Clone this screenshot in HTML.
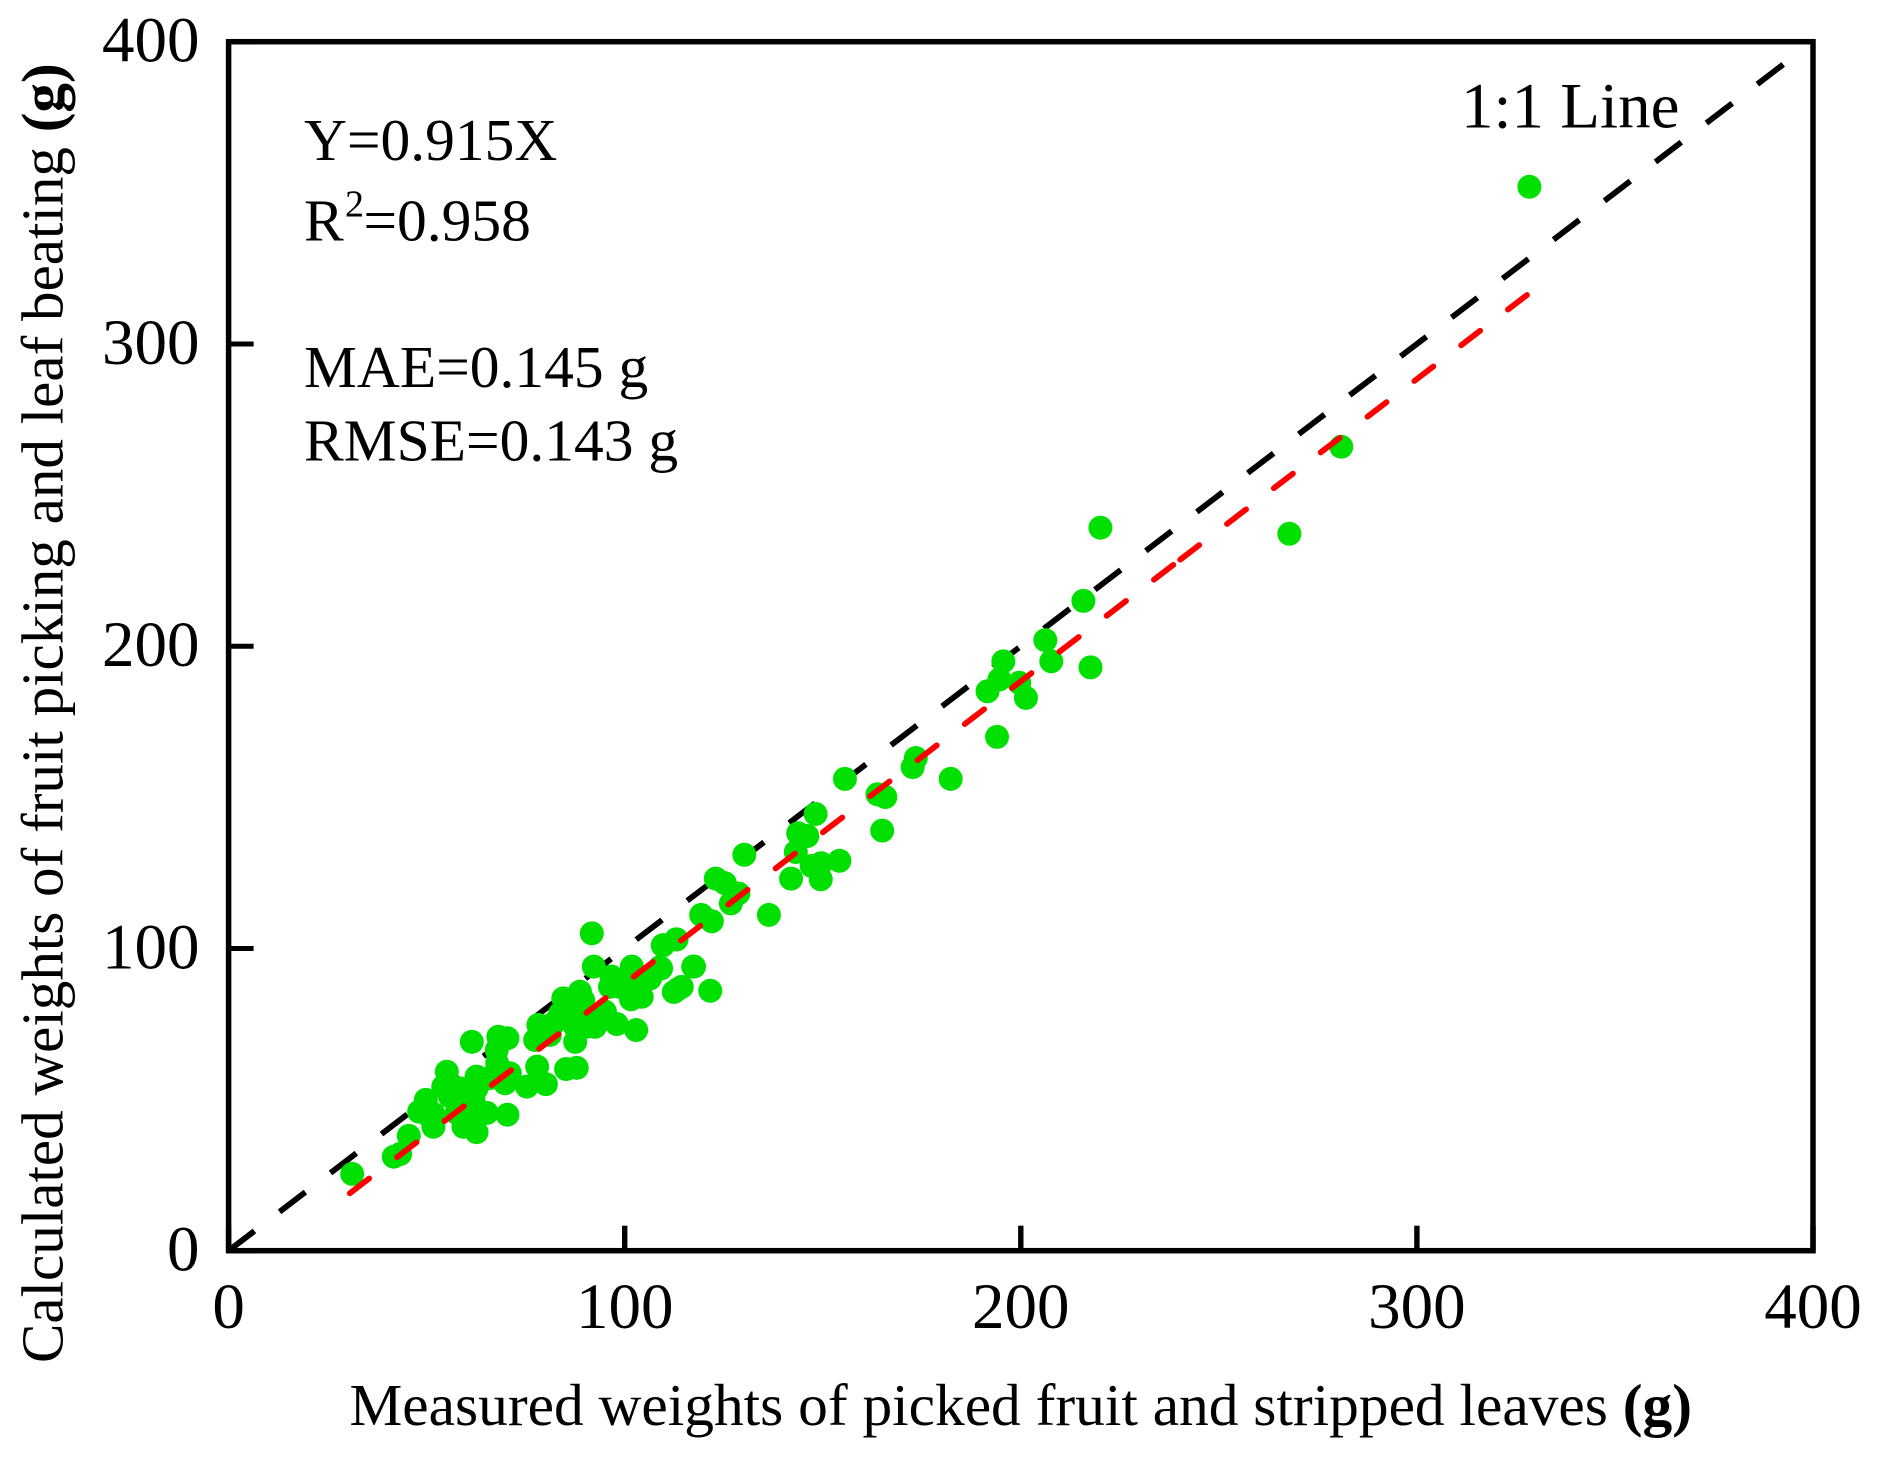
<!DOCTYPE html>
<html lang="en">
<head>
<meta charset="utf-8">
<title>Measured vs calculated weights</title>
<style>
html,body{margin:0;padding:0;background:#fff;}
svg{display:block;}
text{font-family:"Liberation Serif",serif;fill:#000;}
</style>
</head>
<body>
<svg id="chart" xmlns="http://www.w3.org/2000/svg" width="1877" height="1457" viewBox="0 0 1877 1457">
  <rect x="0" y="0" width="1877" height="1457" fill="#fff"/>
  <g id="lines-under"></g>
  <g id="points"></g>
  <g id="lines-over"></g>
  <g id="axes"></g>
  <g>
    <text x="304" y="160" font-size="59.5">Y=0.915X</text>
    <text x="304" y="240.7" font-size="59.5">R</text>
    <text x="345" y="216.7" font-size="38">2</text>
    <text x="363.5" y="240.7" font-size="59.5">=0.958</text>
    <text x="304" y="387" font-size="59.5">MAE=0.145 g</text>
    <text x="304" y="460.7" font-size="59.5">RMSE=0.143 g</text>
  </g>
  <text x="1461" y="127.7" font-size="65">1:1 Line</text>
  <text x="349.5" y="1425" font-size="59.4">Measured weights of picked fruit and stripped leaves <tspan font-weight="bold">(g)</tspan></text>
  <text transform="translate(62.5,1363) rotate(-90)" font-size="59.1">Calculated weights of fruit picking and leaf beating <tspan font-weight="bold">(g)</tspan></text>
</svg>
<script>
const xTickValues = [0, 100, 200, 300, 400];
const yTickValues = [0, 100, 200, 300, 400];
const xTickLabels = ["0", "100", "200", "300", "400"];
const yTickLabels = ["0", "100", "200", "300", "400"];
const measuredWeights = [
  328.4, 280.9, 267.8, 220.1, 215.8, 206.2,
  217.6, 207.7, 195.6, 194.6, 199.6, 191.6, 201.3, 194.0, 173.5, 172.7, 182.3, 155.6,
  165.8, 163.8, 165.0, 148.2, 146.1, 143.8, 143.2, 154.2, 149.6, 147.2, 149.5, 142.0,
  130.2, 136.4, 123.0, 125.3, 128.7, 126.8, 119.4, 122.0, 113.0, 109.6, 117.5, 108.9,
  121.6, 114.4, 112.4,
  31.2, 41.7, 43.3, 45.5, 51.7, 48.1, 49.8, 50.8, 55.1, 54.2, 58.4, 62.6, 55.9, 59.2,
  59.3, 62.6, 61.7, 65.2, 70.4, 61.4, 68.1, 70.4, 67.7, 67.8, 65.6, 69.8, 71.0, 75.3,
  77.9, 80.1, 85.2, 87.9, 77.4, 78.2, 81.1, 84.5, 88.7, 83.7, 86.6, 87.5, 87.5, 92.5,
  95.0, 98.0, 102.9, 92.2, 91.7, 96.7, 101.8, 98.8, 103.9, 101.6, 104.3, 106.4, 109.2,
  109.7, 113.1, 113.4, 117.3, 119.3,
  85.4, 89.5, 89.5, 90.4, 82.0, 96.3, 101.3,
  61.8, 57.6, 60.9, 62.6, 51.7
];
const calculatedWeights = [
  352.0, 266.0, 237.2, 239.2, 215.0, 202.0,
  193.0, 195.0, 195.0, 189.0, 187.9, 185.1, 182.9, 170.0, 163.0, 160.0, 156.1, 156.1,
  150.1, 151.0, 139.0, 144.5, 137.2, 138.1, 131.9, 129.0, 128.2, 127.3, 122.9, 123.1,
  131.0, 111.1, 123.1, 121.6, 118.2, 114.9, 111.0, 109.0, 103.0, 101.0, 94.0, 93.8,
  86.0, 87.3, 85.6,
  25.4, 31.1, 32.0, 38.0, 41.0, 46.0, 49.9, 44.3, 59.2, 54.3, 53.7, 53.7, 51.0, 45.6,
  41.0, 39.2, 45.6, 45.6, 45.0, 69.1, 70.8, 70.3, 66.4, 62.0, 57.0, 55.4, 58.7, 54.3,
  60.9, 55.1, 60.1, 60.5, 69.7, 74.7, 71.4, 83.5, 85.7, 78.5, 80.7, 74.1, 69.1, 74.1,
  79.1, 75.0, 73.0, 94.0, 105.0, 90.7, 94.0, 87.3, 88.5, 83.2, 84.0, 90.1, 93.4,
  101.1, 103.0, 86.5, 94.0, 111.1,
  77.4, 78.5, 82.9, 74.1, 75.2, 87.3, 89.6,
  49.9, 45.6, 42.2, 57.6, 45.3
];
const oneToOneLineX = [0, 393];
const oneToOneLineY = [0, 393];
const fitLineX = [30.6, 240.0, 327.8];
const fitLineY = [19.0, 228.4, 316.2];

const NS = "http://www.w3.org/2000/svg";
const plotLeft = 228.6, plotRight = 1813, plotTop = 41.7, plotBottom = 1250.7;
const xMax = 400, yMax = 400;
function xScale(v) { return plotLeft + (v / xMax) * (plotRight - plotLeft); }
function yScale(v) { return plotBottom - (v / yMax) * (plotBottom - plotTop); }
function make(tag, attrs) {
  const el = document.createElementNS(NS, tag);
  for (const k in attrs) el.setAttribute(k, attrs[k]);
  return el;
}

const under = document.getElementById("lines-under");
const over = document.getElementById("lines-over");
const points = document.getElementById("points");
const axes = document.getElementById("axes");

const oneLine = make("line", {
  x1: xScale(oneToOneLineX[0]), y1: yScale(oneToOneLineY[0]),
  x2: xScale(oneToOneLineX[1]), y2: yScale(oneToOneLineY[1]),
  stroke: "#000", "stroke-width": 5.8, "stroke-dasharray": "32.5 31.6"
});


under.appendChild(oneLine);

measuredWeights.forEach(function (m, i) {
  const c = make("circle", { cx: xScale(m), cy: yScale(calculatedWeights[i]), r: 12, fill: "#00e000" });
  
  
  points.appendChild(c);
});

const fitLower = make("line", {
  x1: xScale(fitLineX[0]), y1: yScale(fitLineY[0]),
  x2: xScale(fitLineX[1]), y2: yScale(fitLineY[1]),
  stroke: "#ff0000", "stroke-width": 5.8, "stroke-linecap": "round", "stroke-dasharray": "24.4 35.1"
});


over.appendChild(fitLower);

const fitUpper = make("line", {
  x1: xScale(fitLineX[2]), y1: yScale(fitLineY[2]),
  x2: xScale(fitLineX[1]), y2: yScale(fitLineY[1]),
  stroke: "#ff0000", "stroke-width": 5.8, "stroke-linecap": "round", "stroke-dasharray": "24 34.9"
});


over.appendChild(fitUpper);

const frame = make("rect", {
  x: plotLeft, y: plotTop, width: plotRight - plotLeft, height: plotBottom - plotTop,
  fill: "none", stroke: "#000", "stroke-width": 5.5
});


axes.appendChild(frame);

xTickValues.forEach(function (v, i) {
  const t = make("line", { x1: xScale(v), x2: xScale(v), y1: plotBottom, y2: plotBottom - 25, stroke: "#000", "stroke-width": 5.4 });
  
  
  axes.appendChild(t);
  const l = make("text", { x: xScale(v), y: plotBottom + 77.5, "font-size": 65, "text-anchor": "middle" });
  l.textContent = xTickLabels[i];
  
  
  axes.appendChild(l);
});

yTickValues.forEach(function (v, i) {
  const t = make("line", { x1: plotLeft, x2: plotLeft + 25, y1: yScale(v), y2: yScale(v), stroke: "#000", "stroke-width": 5 });
  
  
  axes.appendChild(t);
  const l = make("text", { x: 199.5, y: yScale(v) + 19.8, "font-size": 65, "text-anchor": "end" });
  l.textContent = yTickLabels[i];
  
  
  axes.appendChild(l);
});
</script>
</body>
</html>
